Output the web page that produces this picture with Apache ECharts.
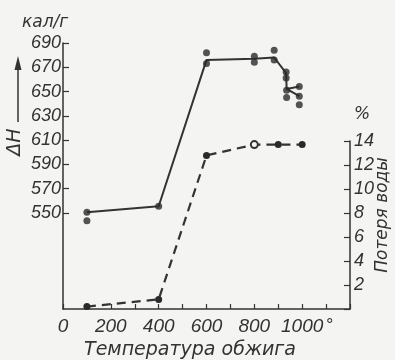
<!DOCTYPE html>
<html><head><meta charset="utf-8">
<script src="https://cdn.jsdelivr.net/npm/echarts@6/dist/echarts.min.js"></script>
<style>html,body{margin:0;padding:0;background:#f4f4f2}#c{width:395px;height:360px}</style>
</head><body><div id="c"></div>
<script>
// Temperature (°C) and enthalpy ΔH (кал/г) – solid line
const dhLineX = [100, 400, 600, 800, 883, 933, 935, 988];
const dhLineY = [550, 555, 676, 677, 678, 665, 652, 654];
const dhBranchX = [935, 988];
const dhBranchY = [652, 646];
// measured ΔH points
const dhPtsX = [100, 100, 400, 600, 600, 800, 800, 883, 883, 933, 933, 935, 935, 988, 988, 988];
const dhPtsY = [550, 543, 555, 682, 673, 679, 674, 684, 676, 666, 661, 651, 645, 654, 646, 639];
// water loss, % – dashed line
const waterX = [100, 400, 600, 800, 900, 1000];
const waterY = [0.2, 0.8, 12.8, 13.7, 13.7, 13.7];
const waterHollow = [false, false, false, true, false, false];
// ticks / labels
const xTickLabels = [0, 200, 400, 600, 800, 1000];
const dhTickLabels = [550, 570, 590, 610, 630, 650, 670, 690];
const waterTickLabels = [2, 4, 6, 8, 10, 12, 14];

const INK = '#333333';
const BG = '#f4f4f2';
const NUM_FONT = "'Liberation Sans','DejaVu Sans',sans-serif";
const TXT_FONT = "'DejaVu Sans','Liberation Sans',sans-serif";

const chart = echarts.init(document.getElementById('c'), null, {renderer: 'canvas'});
const pair = (xs, ys) => xs.map((x, i) => [x, ys[i]]);

const option = {
  backgroundColor: BG,
  animation: false,
  grid: [
    {left: 63, right: 45, top: 43, bottom: 51},   // main ΔH grid (470–690)
    {left: 63, right: 45, top: 141, bottom: 51},  // water-loss grid (0–14)
    {left: 63, right: 45, top: 43, bottom: 147}   // ΔH labelled part (550–690)
  ],
  xAxis: [
    {gridIndex: 0, type: 'value', min: 0, max: 1200, interval: 100,
     axisLine: {show: true, onZero: false, lineStyle: {color: INK, width: 1.5}},
     axisTick: {show: true, inside: true, length: 5, lineStyle: {color: INK, width: 1.2}},
     splitLine: {show: false},
     axisLabel: {margin: 8, color: INK, fontFamily: NUM_FONT, fontStyle: 'italic', fontSize: 19,
       formatter: v => xTickLabels.includes(v) ? String(v) : (v === 1100 ? '{d|°}' : ''),
       rich: {d: {fontSize: 18, fontFamily: NUM_FONT, color: INK, padding: [0, 0, 16, 6]}}}},
    {gridIndex: 1, type: 'value', min: 0, max: 1200, show: false},
    {gridIndex: 2, type: 'value', min: 0, max: 1200, show: false}
  ],
  yAxis: [
    {gridIndex: 0, type: 'value', min: 470, max: 690, position: 'left',
     axisLine: {show: true, onZero: false, lineStyle: {color: INK, width: 1.5}},
     axisTick: {show: false}, axisLabel: {show: false}, splitLine: {show: false}},
    {gridIndex: 1, type: 'value', min: 0, max: 14, interval: 2, position: 'right',
     name: '%', nameLocation: 'end', nameGap: 18,
     nameTextStyle: {color: INK, fontFamily: TXT_FONT, fontStyle: 'italic', fontSize: 17, align: 'left', padding: [0, 0, 0, 4]},
     axisLine: {show: true, onZero: false, lineStyle: {color: INK, width: 1.5}},
     axisTick: {show: true, inside: true, length: 6, lineStyle: {color: INK, width: 1.2}},
     splitLine: {show: false},
     axisLabel: {margin: 4, color: INK, fontFamily: NUM_FONT, fontStyle: 'italic', fontSize: 18,
       formatter: v => waterTickLabels.includes(v) ? String(v) : ''}},
    {gridIndex: 2, type: 'value', min: 550, max: 690, interval: 20, position: 'left',
     axisLine: {show: false, onZero: false},
     axisTick: {show: true, inside: true, length: 6, lineStyle: {color: INK, width: 1.2}},
     splitLine: {show: false},
     axisLabel: {margin: 2, color: INK, fontFamily: NUM_FONT, fontStyle: 'italic', fontSize: 18,
       formatter: v => dhTickLabels.includes(v) ? String(v) : ''}}
  ],
  series: [
    {type: 'line', xAxisIndex: 0, yAxisIndex: 0, data: pair(dhLineX, dhLineY),
     showSymbol: false, lineStyle: {color: INK, width: 2}, z: 3},
    {type: 'line', xAxisIndex: 0, yAxisIndex: 0, data: pair(dhBranchX, dhBranchY),
     showSymbol: false, lineStyle: {color: INK, width: 2}, z: 3},
    {type: 'scatter', xAxisIndex: 0, yAxisIndex: 0, data: pair(dhPtsX, dhPtsY),
     symbol: 'circle', symbolSize: 7, itemStyle: {color: '#2a2a2a'}, z: 4},
    {type: 'line', xAxisIndex: 1, yAxisIndex: 1,
     data: waterX.map((x, i) => ({value: [x, waterY[i]],
       itemStyle: waterHollow[i] ? {color: BG, borderColor: INK, borderWidth: 2} : {color: '#2a2a2a', borderWidth: 0}})),
     symbol: 'circle', symbolSize: 7, showAllSymbol: true,
     lineStyle: {color: INK, width: 2.2, type: [9, 6]}, z: 3}
  ],
  graphic: [
    {type: 'text', left: 22, top: 14, style: {text: 'кал/г', fill: INK, font: "italic 17px 'DejaVu Sans'"}},
    {type: 'line', shape: {x1: 18, y1: 122, x2: 18, y2: 64}, style: {stroke: INK, lineWidth: 1.5}},
    {type: 'polygon', shape: {points: [[18, 56], [14.5, 70], [21.5, 70]]}, style: {fill: INK}},
    {type: 'text', x: 15, y: 142, rotation: Math.PI / 2,
     style: {text: 'ΔH', fill: INK, font: "italic 19px 'DejaVu Sans'", align: 'center', verticalAlign: 'middle'}},
    {type: 'text', x: 383, y: 215, rotation: Math.PI / 2,
     style: {text: 'Потеря воды', fill: INK, font: "italic 17px 'DejaVu Sans'", align: 'center', verticalAlign: 'middle'}},
    {type: 'text', x: 190, y: 350,
     style: {text: 'Температура обжига', fill: INK, font: "italic 19px 'DejaVu Sans'", align: 'center', verticalAlign: 'middle'}}
  ]
};
chart.setOption(option);
</script></body></html>
